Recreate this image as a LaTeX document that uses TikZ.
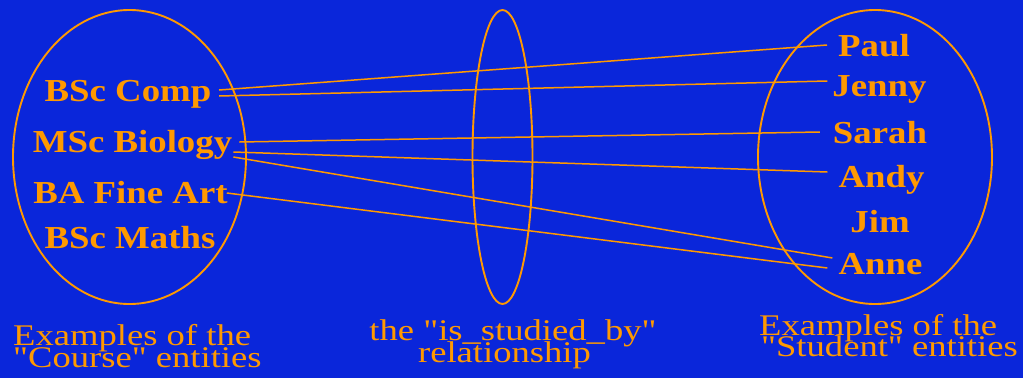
\documentclass[tikz,border=0pt]{standalone}
\usepackage{fontspec}
\setmainfont{Liberation Serif}[Ligatures=TeXOff]
\usetikzlibrary{calc}
\definecolor{bg}{RGB}{10,38,218}
\definecolor{org}{RGB}{255,153,0}
\newcommand{\wide}[1]{\scalebox{1.15}[1]{#1}}
\newcommand{\wider}[1]{\scalebox{1.22}[1]{#1}}
\begin{document}
\begin{tikzpicture}[x=1pt,y=-1pt,
  ent/.style={font=\fontsize{32}{32}\selectfont\bfseries, text=org, anchor=base, inner sep=0pt},
  capl/.style={font=\fontsize{30}{30}\selectfont, text=org, anchor=base west, inner sep=0pt},
  capc/.style={font=\fontsize{30}{30}\selectfont, text=org, anchor=base, inner sep=0pt},
  link/.style={draw=org, line width=1.5pt},
  setline/.style={draw=org, line width=1.9pt}]
\fill[bg] (0,0) rectangle (1023,378);
\useasboundingbox (0,0) rectangle (1023,378);
% sets
\draw[setline] (129.5,157) ellipse [x radius=116.5pt, y radius=147pt];
\draw[setline] (502.5,157) ellipse [x radius=30pt, y radius=147pt];
\draw[setline] (875,157) ellipse [x radius=117pt, y radius=147pt];
% courses
\node[ent] (comp)  at (128,101)   {\wide{BSc Comp}};
\node[ent] (bio)   at (132.5,152) {\wide{MSc Biology}};
\node[ent] (art)   at (130.5,203) {\wide{BA Fine Art}};
\node[ent] (maths) at (130,248)   {\wide{BSc Maths}};
% students
\node[ent] (paul)  at (874,56)    {\wide{Paul}};
\node[ent] (jenny) at (879.5,96)  {\wide{Jenny}};
\node[ent] (sarah) at (880,143)   {\wide{Sarah}};
\node[ent] (andy)  at (881.5,187) {\wide{Andy}};
\node[ent] (jim)   at (880,232)   {\wide{Jim}};
\node[ent] (anne)  at (880.5,274) {\wide{Anne}};
% links
\draw[link] ($(comp.base east)+(7.5,-11)$) -- ($(paul.base west)+(-11,-11)$);
\draw[link] ($(comp.base east)+(7.5,-5)$) -- ($(jenny.base west)+(-5,-15)$);
\draw[link] ($(bio.base east)+(7,-10)$) -- ($(sarah.base west)+(-13,-11)$);
\draw[link] ($(bio.base east)+(1,0)$) -- ($(andy.base west)+(-11,-15)$);
\draw[link] ($(bio.base east)+(1,5)$) -- ($(anne.base west)+(-6,-16)$);
\draw[link] ($(art.base east)+(-1,-10)$) -- ($(anne.base west)+(-11,-6)$);
% captions
\node[capl] (cl1) at (13,345) {\wider{Examples of the}};
\node[capl] (cl2) at (13,367) {\wider{"Course" entities}};
\node[capc] (cm1) at (513,340) {\wider{the "is\_studied\_by"}};
\node[capc] (cm2) at (504.5,362) {\wider{relationship}};
\node[capl] (cr1) at (759,335) {\wider{Examples of the}};
\node[capl] (cr2) at (761,356) {\wider{"Student" entities}};
\end{tikzpicture}
\end{document}
